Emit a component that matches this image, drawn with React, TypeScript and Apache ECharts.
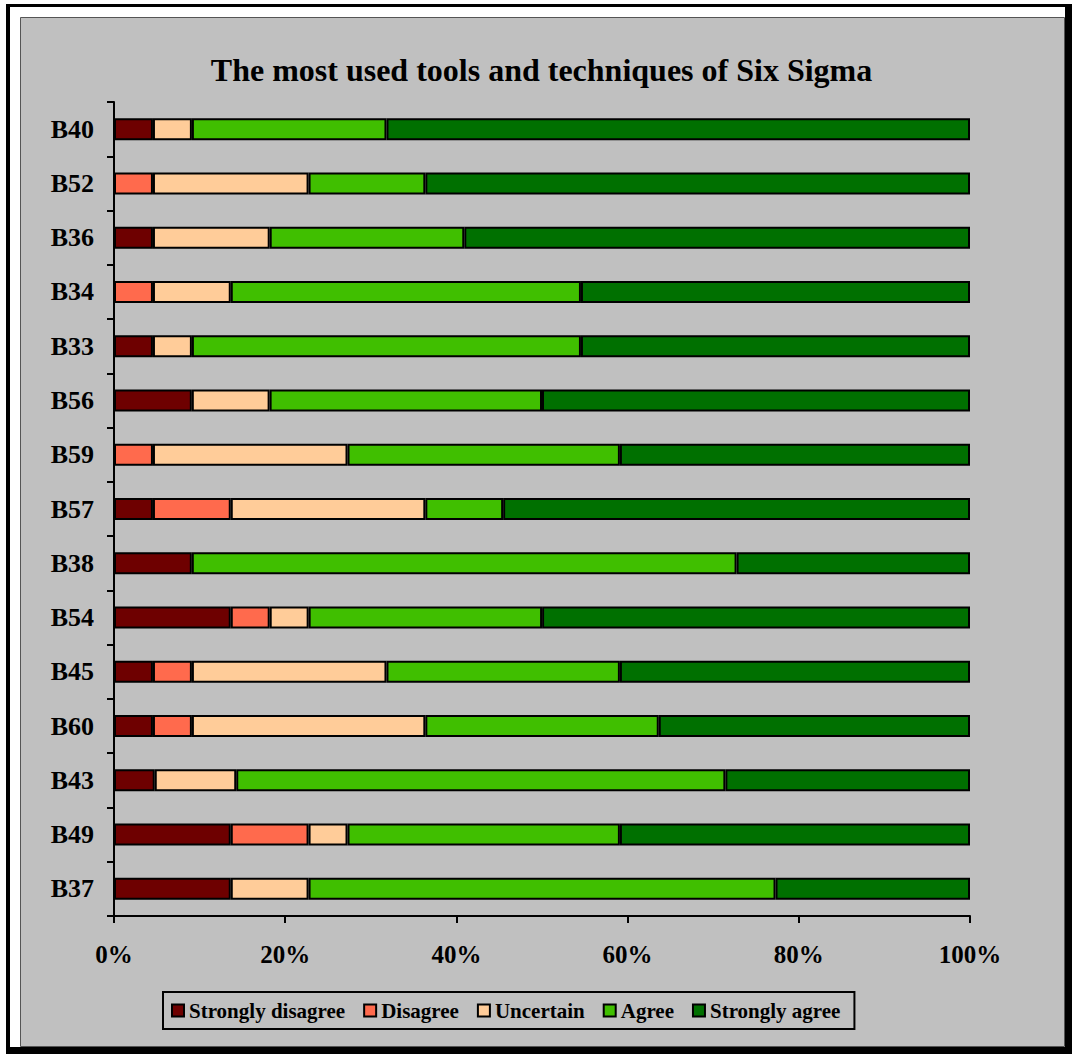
import React, { useEffect, useRef } from "react";
import * as echarts from "echarts";

const categories = ["B40", "B52", "B36", "B34", "B33", "B56", "B59", "B57", "B38", "B54", "B45", "B60", "B43", "B49", "B37"];
const seriesNames = ["Strongly disagree", "Disagree", "Uncertain", "Agree", "Strongly agree"];
const seriesColors = ["#6E0000", "#FF6A4D", "#FFCC99", "#40BF00", "#007000"];

// percentages per category (same order as categories)
const stronglyDisagree = [4.55, 0, 4.55, 0, 4.55, 9.09, 0, 4.55, 9.09, 13.64, 4.55, 4.55, 4.76, 13.64, 13.64];
const disagree = [0, 4.55, 0, 4.55, 0, 0, 4.55, 9.09, 0, 4.55, 4.55, 4.55, 0, 9.09, 0];
const uncertain = [4.55, 18.18, 13.64, 9.09, 4.55, 9.09, 22.73, 22.73, 0, 4.55, 22.73, 27.27, 9.52, 4.55, 9.09];
const agree = [22.73, 13.64, 22.73, 40.91, 45.45, 31.82, 31.82, 9.09, 63.64, 27.27, 27.27, 27.27, 57.14, 31.82, 54.55];
const stronglyAgree = [68.17, 63.63, 59.08, 45.45, 45.45, 50, 40.9, 54.54, 27.27, 49.99, 40.9, 36.36, 28.58, 40.9, 22.72];

const xTicks = [0, 20, 40, 60, 80, 100];

const FONT = "'Liberation Serif', 'Times New Roman', serif";

export default function App() {
  const ref = useRef<HTMLDivElement>(null);

  useEffect(() => {
    if (!ref.current) return;
    const chart = echarts.init(ref.current, null, { renderer: "svg" });
    const allData = [stronglyDisagree, disagree, uncertain, agree, stronglyAgree];
    const series = allData.map((arr, i) => ({
      name: seriesNames[i],
      type: "bar",
      stack: "total",
      barWidth: 22,
      data: arr.map((v) => (v === 0 ? "-" : v)),
      itemStyle: { color: seriesColors[i], borderColor: "#000", borderWidth: 2 },
      emphasis: { disabled: true },
    }));

    chart.setOption({
      animation: false,
      backgroundColor: "#ffffff",
      graphic: [
        { type: "rect", z: -100, silent: true, shape: { x: 6, y: 4, width: 1066, height: 1050 }, style: { fill: "#000" } },
        { type: "rect", z: -99, silent: true, shape: { x: 10, y: 7, width: 1055, height: 1040 }, style: { fill: "#fff" } },
        { type: "rect", z: -98, silent: true, shape: { x: 20.5, y: 17.5, width: 1044, height: 1029 }, style: { fill: "#C0C0C0", stroke: "#555", lineWidth: 1 } },
      ],
      title: {
        text: "The most used tools and techniques of Six Sigma",
        left: "center",
        top: 49,
        textStyle: { fontFamily: FONT, fontWeight: "bold", fontSize: 32, color: "#000" },
      },
      legend: {
        data: seriesNames,
        left: 163,
        top: 992,
        padding: [8, 14, 8, 8],
        borderColor: "#000",
        borderWidth: 2,
        itemWidth: 12,
        itemHeight: 12,
        itemGap: 18,
        icon: "rect",
        textStyle: { fontFamily: FONT, fontWeight: "bold", fontSize: 21, color: "#000" },
      },
      grid: { left: 114, right: 113, top: 102, bottom: 148, containLabel: false },
      xAxis: {
        type: "value",
        min: xTicks[0],
        max: xTicks[xTicks.length - 1],
        interval: xTicks[1] - xTicks[0],
        axisLine: { show: true, lineStyle: { color: "#000", width: 2 } },
        axisTick: { show: true, length: 7, lineStyle: { color: "#000", width: 2 } },
        splitLine: { show: false },
        axisLabel: {
          formatter: "{value}%",
          margin: 26,
          fontFamily: FONT,
          fontWeight: "bold",
          fontSize: 25,
          color: "#000",
        },
      },
      yAxis: {
        type: "category",
        data: categories,
        inverse: true,
        axisLine: { show: true, lineStyle: { color: "#000", width: 2 } },
        axisTick: { show: true, length: 7, lineStyle: { color: "#000", width: 2 } },
        axisLabel: {
          margin: 20,
          fontFamily: FONT,
          fontWeight: "bold",
          fontSize: 26,
          color: "#000",
        },
      },
      series,
    });
    return () => chart.dispose();
  }, []);

  return (
    <div
      ref={ref}
      style={{ position: "absolute", left: 0, top: 0, width: 1083, height: 1064 }}
    />
  );
}
